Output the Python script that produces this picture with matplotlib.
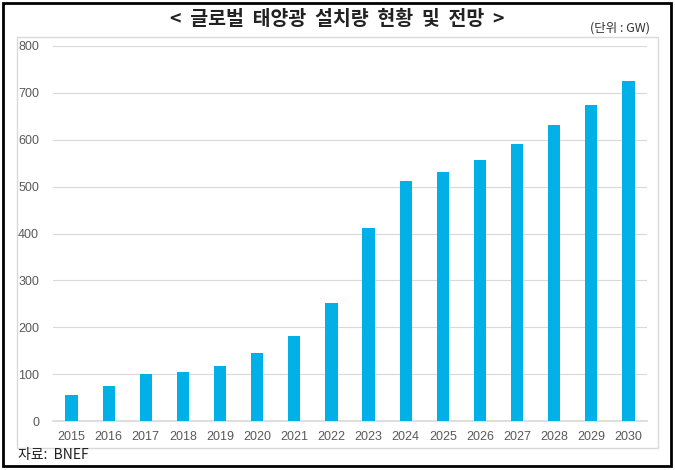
import matplotlib
matplotlib.use("Agg")
import matplotlib.pyplot as plt
from matplotlib.patches import Rectangle

plt.rcParams['font.family'] = ['Noto Sans CJK KR', 'DejaVu Sans']

# data (GW)
years = ['2015', '2016', '2017', '2018', '2019', '2020', '2021', '2022',
         '2023', '2024', '2025', '2026', '2027', '2028', '2029', '2030']
installed = [55, 75, 100, 105, 117, 145, 182, 252,
             412, 511, 531, 556, 590, 631, 675, 726]

BAR_COLOR = '#00B0E6'
TICK_COLOR = '#595959'

fig = plt.figure(figsize=(6.75, 4.7), dpi=100)

# outer black frame
fig.patches.append(Rectangle((0.004, 0.008), 0.99, 0.986, transform=fig.transFigure,
                             fill=False, edgecolor='black', linewidth=2))
# inner light grey chart box
fig.patches.append(Rectangle((17 / 675, (470 - 448) / 470), (658 - 17) / 675, (448 - 37) / 470,
                             transform=fig.transFigure, fill=False,
                             edgecolor='#D9D9D9', linewidth=1))

ax = fig.add_axes([53 / 675, (470 - 421) / 470, (647 - 53) / 675, (421 - 46) / 470])
x = range(len(years))
ax.bar(x, installed, width=0.33, color=BAR_COLOR, zorder=3)

ax.set_xlim(-0.5, len(years) - 0.5)
ax.set_ylim(0, 800)
ax.set_yticks(range(0, 801, 100))
ax.set_xticks(list(x))
ax.set_xticklabels(years)
ax.yaxis.grid(True, color='#D9D9D9', linewidth=0.8, zorder=0)
for side in ['top', 'right', 'left']:
    ax.spines[side].set_visible(False)
ax.spines['bottom'].set_color('#D9D9D9')
ax.spines['bottom'].set_linewidth(1.2)
ax.tick_params(axis='both', length=0, labelsize=9, colors=TICK_COLOR)
ax.tick_params(axis='y', pad=10)
ax.tick_params(axis='x', pad=7)
for lbl in ax.get_xticklabels() + ax.get_yticklabels():
    lbl.set_family(['Liberation Sans', 'DejaVu Sans'])

fig.text(0.5, 0.958, '<  글로벌  태양광  설치량  현황  및  전망  >', ha='center', va='center',
         fontsize=14, fontweight='bold', color='#222222')
fig.text(0.963, 0.940, '(단위 : GW)', ha='right', va='center', fontsize=9, color='#333333')
fig.text(18 / 675, (470 - 455) / 470, '자료:  BNEF', ha='left', va='center',
         fontsize=10, color='#222222')

fig.savefig('out.png', dpi=100)
